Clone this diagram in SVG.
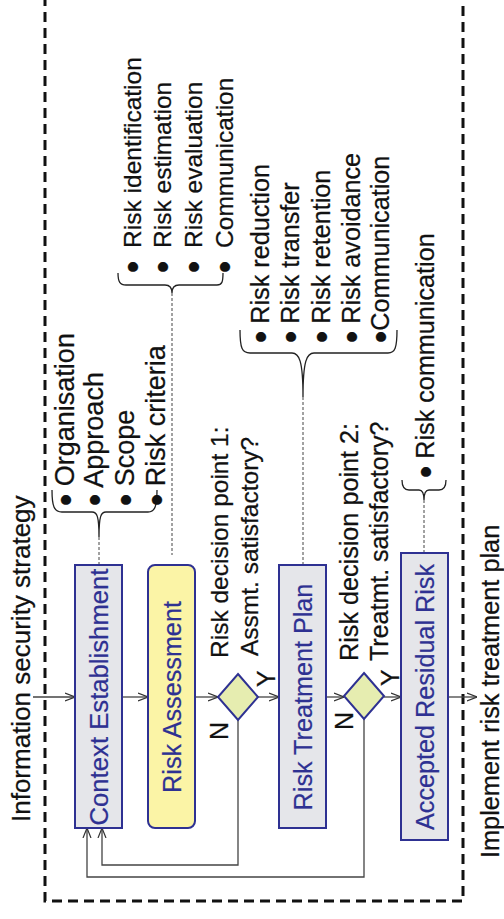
<svg xmlns="http://www.w3.org/2000/svg" width="504" height="919" viewBox="0 0 504 919">
<defs>
<marker id="arr" viewBox="0 0 10 10" refX="10" refY="5" markerWidth="10" markerHeight="10" markerUnits="userSpaceOnUse" orient="auto">
<path d="M0,1 L10,5 L0,9" fill="none" stroke="#333" stroke-width="1.2"/>
</marker>
<style>
text{font-family:"Liberation Sans",Arial,sans-serif;font-size:26px;fill:#111;stroke:#111;stroke-width:0.25}
.bt{fill:#2e3192;stroke:#2e3192;stroke-width:0.2;text-anchor:middle;font-size:25.2px}
.b{font-size:36px;baseline-shift:-4.35px}
.box{fill:#e5e6ea;stroke:#2e3192;stroke-width:2}
.ybox{fill:#fbf4a6;stroke:#2e3192;stroke-width:2}
.dia{fill:#e6edb0;stroke:#2e3192;stroke-width:2}
.con{fill:none;stroke:#444;stroke-width:1.3}
.dot{fill:none;stroke:#444;stroke-width:1;stroke-dasharray:3,2}
.brace{fill:none;stroke:#222;stroke-width:1.3}
</style>
</defs>
<path d="M45,-20 V901 H463 V-20" fill="none" stroke="#111" stroke-width="3" stroke-dasharray="10,6"/>

<g id="connectors">
<path class="con" d="M33,697 H75" marker-end="url(#arr)"/>
<path class="con" d="M122,697 H148" marker-end="url(#arr)"/>
<path class="con" d="M195,697 H218" marker-end="url(#arr)"/>
<path class="con" d="M258,697 H279" marker-end="url(#arr)"/>
<path class="con" d="M326,697 H344" marker-end="url(#arr)"/>
<path class="con" d="M384,697 H401" marker-end="url(#arr)"/>
<path class="con" d="M448,697 H477" marker-end="url(#arr)"/>
<path class="con" d="M238,720 V865 H102 V828" marker-end="url(#arr)"/>
<path class="con" d="M364,719 V877 H87 V828" marker-end="url(#arr)"/>
<path class="dot" d="M99,537 V565"/>
<path class="dot" d="M172,293 V555"/>
<path class="dot" d="M303,397 V565"/>
<path class="dot" d="M424,500 V553"/>
</g>

<g id="input">
<text transform="translate(30,822) rotate(-90)">Information security strategy</text>
</g>

<g id="context">
<rect class="box" x="75" y="565" width="47" height="263"/>
<text class="bt" style="font-size:25.7px" transform="translate(107.5,697) rotate(-90)">Context Establishment</text>
</g>
<g id="context-items">
<path class="brace" d="M52,490 C52,506 54,512 62,512 L92,512 C97,512 99,516 99,537 C99,516 101,512 106,512 L148,512 C155,512 157,506 157,490"/>
<text style="font-size:27px" transform="translate(73.5,506.3) rotate(-90)"><tspan class="b">•</tspan> Organisation</text>
<text style="font-size:27px" transform="translate(103,506.3) rotate(-90)"><tspan class="b">•</tspan> Approach</text>
<text style="font-size:27px" transform="translate(133.5,506.3) rotate(-90)"><tspan class="b">•</tspan> Scope</text>
<text style="font-size:27px" transform="translate(165,506.3) rotate(-90)"><tspan class="b">•</tspan> Risk criteria</text>
</g>

<g id="assessment">
<rect class="ybox" x="148" y="565" width="47" height="263" rx="7"/>
<text class="bt" transform="translate(180.5,697) rotate(-90)">Risk Assessment</text>
</g>
<g id="assessment-items">
<path class="brace" d="M118,273 C118,282 120,285 126,285 L165,285 C170,285 172,288 172,293 C172,288 174,285 179,285 L217,285 C222,285 223,282 223,273"/>
<text style="font-size:24.5px" transform="translate(141,273.3) rotate(-90)"><tspan class="b">•</tspan><tspan dx="6"> Risk identification</tspan></text>
<text style="font-size:24.5px" transform="translate(171,273.3) rotate(-90)"><tspan class="b">•</tspan><tspan dx="6"> Risk estimation</tspan></text>
<text style="font-size:24.5px" transform="translate(201.5,273.3) rotate(-90)"><tspan class="b">•</tspan><tspan dx="6"> Risk evaluation</tspan></text>
<text style="font-size:24.5px" transform="translate(232.5,273.3) rotate(-90)"><tspan class="b">•</tspan><tspan dx="6"> Communication</tspan></text>
</g>

<g id="decision1">
<path class="dia" d="M238,674 L258,697 L238,720 L218,697 Z"/>
<text style="font-size:24.5px" transform="translate(228,658) rotate(-90)">Risk decision point 1:</text>
<text style="font-size:24.5px" transform="translate(258,656) rotate(-90)">Assmt. satisfactory?</text>
<text style="font-size:25px" transform="translate(228,740) rotate(-90)">N</text>
<text style="font-size:25px" transform="translate(275,687) rotate(-90)">Y</text>
</g>

<g id="treatment">
<rect class="box" x="279" y="565" width="47" height="263"/>
<text class="bt" transform="translate(311.5,697) rotate(-90)">Risk Treatment Plan</text>
</g>
<g id="treatment-items">
<path class="brace" d="M240,330 C240,348 242,353 250,353 L292,353 C299,353 303,360 303,397 C303,360 307,353 314,353 L388,353 C395,353 397,348 397,330"/>
<text style="font-size:25.2px" transform="translate(268.5,343.3) rotate(-90)"><tspan class="b">•</tspan> Risk reduction</text>
<text style="font-size:25.2px" transform="translate(298.5,343.3) rotate(-90)"><tspan class="b">•</tspan> Risk transfer</text>
<text style="font-size:25.2px" transform="translate(329.5,343.3) rotate(-90)"><tspan class="b">•</tspan> Risk retention</text>
<text style="font-size:25.2px" transform="translate(359.5,343.3) rotate(-90)"><tspan class="b">•</tspan> Risk avoidance</text>
<text style="font-size:25.2px" transform="translate(388.5,343.3) rotate(-90)"><tspan class="b">•</tspan>Communication</text>
</g>

<g id="decision2">
<path class="dia" d="M364,673 L384,696 L364,719 L344,696 Z"/>
<text style="font-size:25.2px" transform="translate(358,661) rotate(-90)">Risk decision point 2:</text>
<text style="font-size:25px" transform="translate(388,661) rotate(-90)">Treatmt. satisfactory?</text>
<text style="font-size:25px" transform="translate(353,730) rotate(-90)">N</text>
<text style="font-size:25px" transform="translate(399,686) rotate(-90)">Y</text>
</g>

<g id="residual">
<rect class="box" x="401" y="553" width="47" height="287"/>
<text class="bt" transform="translate(433.5,697) rotate(-90)">Accepted Residual Risk</text>
</g>
<g id="residual-items">
<path class="brace" d="M402,480 C402,487 404,490 409,490 L419,490 C422,490 424,493 424,500 C424,493 426,490 429,490 L439,490 C444,490 446,487 446,480"/>
<text style="font-size:25.2px" transform="translate(433.5,478.3) rotate(-90)"><tspan class="b">•</tspan> Risk communication</text>
</g>

<g id="output">
<text style="font-size:25.3px" transform="translate(499,858) rotate(-90)">Implement risk treatment plan</text>
</g>
</svg>
